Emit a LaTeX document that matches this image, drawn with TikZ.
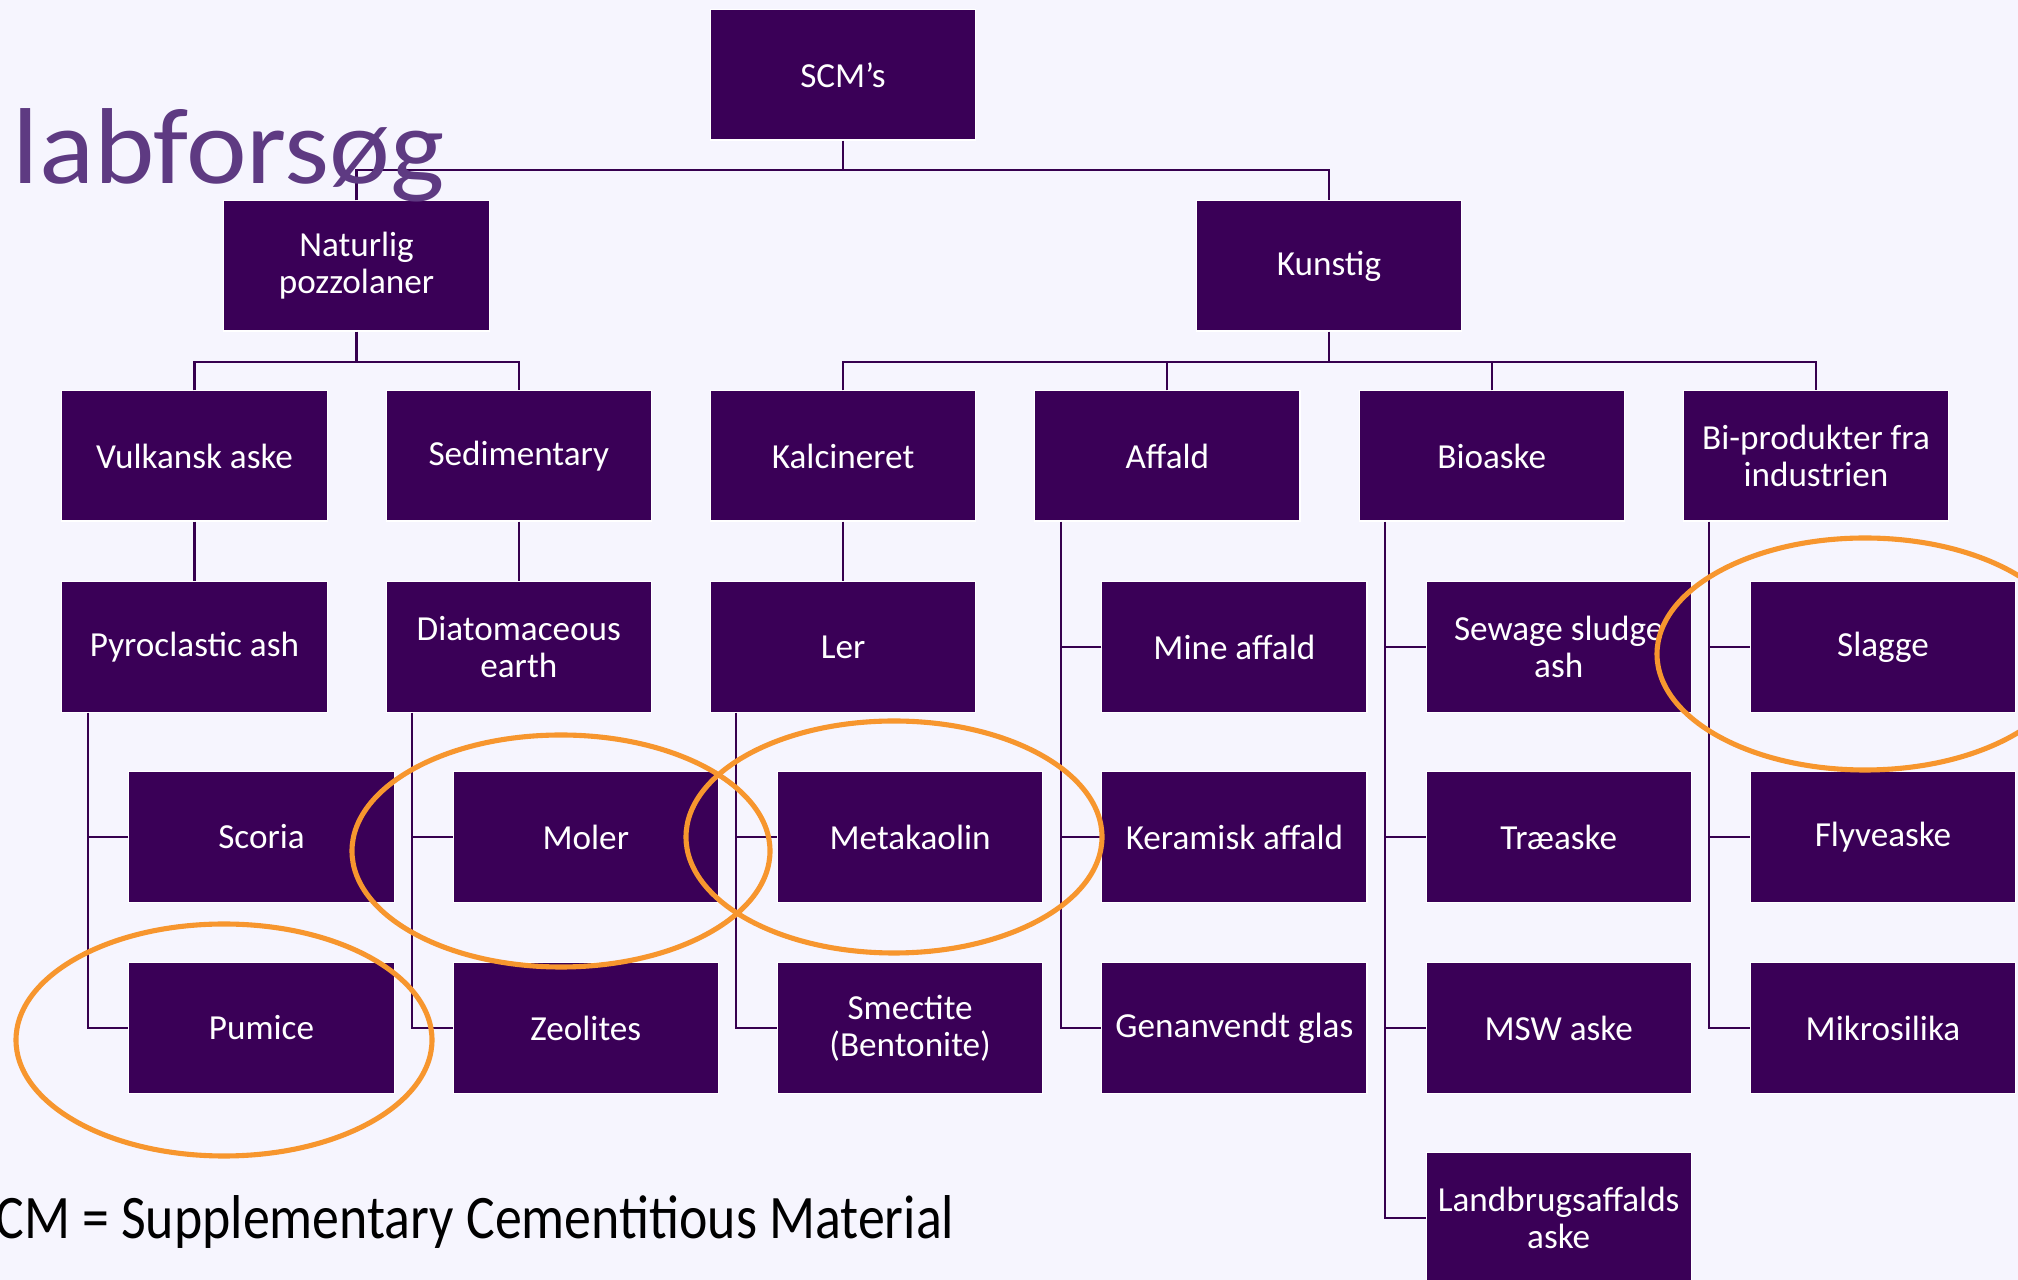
\documentclass[tikz,border=0pt]{standalone}
\usepackage{fontspec}
\setmainfont{Carlito}
\usetikzlibrary{calc}
\definecolor{bgc}{HTML}{F6F5FE}
\definecolor{boxc}{HTML}{3A0057}
\definecolor{linec}{HTML}{36004F}
\definecolor{titlec}{HTML}{5E3A82}
\definecolor{orangec}{HTML}{F7962E}
\begin{document}
\begin{tikzpicture}[x=0.01cm,y=-0.01cm,
  box/.style={draw=white,line width=0.3pt,fill=boxc,text=white,minimum width=2.65cm,minimum height=1.3cm,inner sep=0pt,align=center,font=\fontsize{10}{10.5}\selectfont},
  conn/.style={draw=linec,line width=0.6pt},
  ring/.style={draw=orangec,line width=1.45pt}]
\useasboundingbox (0,0) rectangle (2018,1280);
\clip (0,0) rectangle (2018,1280);
\fill[bgc] (0,0) rectangle (2018,1280);

% level 0/1
\node[box] (scm) at (843,75) {SCM’s};
\node[box] (nat) at (356.5,266) {Naturlig\\pozzolaner};
\node[box] (kun) at (1329,266) {Kunstig};
% row 2
\node[box] (vul) at (194.5,456) {Vulkansk aske};
\node[box] (sed) at (518.8,456) {Sedimentary};
\node[box] (kal) at (843.1,456) {Kalcineret};
\node[box] (aff) at (1167.4,456) {Affald};
\node[box] (bio) at (1491.7,456) {Bioaske};
\node[box] (bip) at (1816,456) {Bi-produkter fra\\industrien};
% row 3
\node[box] (pyr) at (194.5,647) {Pyroclastic ash};
\node[box] (dia) at (518.8,647) {Diatomaceous\\earth};
\node[box] (ler) at (843.1,647) {Ler};
\node[box] (mine) at (1234.4,647) {Mine affald};
\node[box] (sew) at (1558.7,647) {Sewage sludge\\ash};
\node[box] (sla) at (1883,647) {Slagge};
% row 4
\node[box] (sco) at (261.5,837) {Scoria};
\node[box] (mol) at (585.8,837) {Moler};
\node[box] (met) at (910.1,837) {Metakaolin};
\node[box] (ker) at (1234.4,837) {Keramisk affald};
\node[box] (trae) at (1558.7,837) {Træaske};
\node[box] (fly) at (1883,837) {Flyveaske};
% row 5
\node[box] (pum) at (261.5,1028) {Pumice};
\node[box] (zeo) at (585.8,1028) {Zeolites};
\node[box] (sme) at (910.1,1028) {Smectite\\(Bentonite)};
\node[box] (gen) at (1234.4,1028) {Genanvendt glas};
\node[box] (msw) at (1558.7,1028) {MSW aske};
\node[box] (mik) at (1883,1028) {Mikrosilika};
% row 6
\node[box] (lan) at (1558.7,1218) {Landbrugsaffalds\\aske};

% connectors
\coordinate (j0) at (843,170);
\draw[conn] (scm.south) -- (j0);
\draw[conn] (nat.north) |- (j0) -| (kun.north);
\coordinate (j1) at (356.5,361.6);
\draw[conn] (nat.south) -- (j1);
\draw[conn] (vul.north) |- (j1) -| (sed.north);
\coordinate (j2) at (1329,361.6);
\draw[conn] (kun.south) -- (j2);
\draw[conn] (kal.north) |- (j2) -| (bip.north);
\draw[conn] (aff.north) -- (aff.north |- j2);
\draw[conn] (bio.north) -- (bio.north |- j2);
\draw[conn] (vul.south) -- (pyr.north);
\draw[conn] (sed.south) -- (dia.north);
\draw[conn] (kal.south) -- (ler.north);

\coordinate (spa) at ($(pyr.south)+(-106.8,0)$);
\draw[conn] (spa) |- (pum.west);
\draw[conn] (sco.west) -- (sco.west -| spa);
\coordinate (spb) at ($(dia.south)+(-106.8,0)$);
\draw[conn] (spb) |- (zeo.west);
\draw[conn] (mol.west) -- (mol.west -| spb);
\coordinate (spc) at ($(ler.south)+(-106.8,0)$);
\draw[conn] (spc) |- (sme.west);
\draw[conn] (met.west) -- (met.west -| spc);
\coordinate (spd) at ($(aff.south)+(-106.8,0)$);
\draw[conn] (spd) |- (gen.west);
\draw[conn] (mine.west) -- (mine.west -| spd);
\draw[conn] (ker.west) -- (ker.west -| spd);
\coordinate (spe) at ($(bio.south)+(-106.8,0)$);
\draw[conn] (spe) |- (lan.west);
\draw[conn] (sew.west) -- (sew.west -| spe);
\draw[conn] (trae.west) -- (trae.west -| spe);
\draw[conn] (msw.west) -- (msw.west -| spe);
\coordinate (spf) at ($(bip.south)+(-106.8,0)$);
\draw[conn] (spf) |- (mik.west);
\draw[conn] (sla.west) -- (sla.west -| spf);
\draw[conn] (fly.west) -- (fly.west -| spf);

% title and footnote
\node[anchor=base west,inner sep=0pt,text=titlec,font=\fontsize{30.7}{32}\selectfont] (title) at (12,184) {\scalebox{1.065}[1]{labforsøg}};
\node[anchor=base east,inner sep=0pt,text=black,font=\fontsize{17.6}{19}\selectfont] (foot) at (955,1239) {\scalebox{0.87}[1]{SCM = Supplementary Cementitious Material}};

% highlight ellipses
\draw[ring] (224,1040) ellipse [x radius=208, y radius=116];
\draw[ring] (561,851) ellipse [x radius=209, y radius=116];
\draw[ring] (894,837) ellipse [x radius=208, y radius=116];
\draw[ring] (1865,654) ellipse [x radius=208, y radius=116];
\end{tikzpicture}
\end{document}
